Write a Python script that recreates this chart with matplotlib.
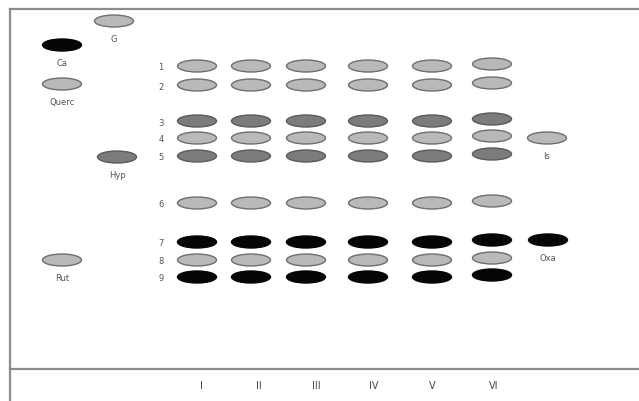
import matplotlib
matplotlib.use("Agg")
import matplotlib.pyplot as plt
from matplotlib.patches import Ellipse

# lanes of the plate and the numbered spots in each lane
lanes = ["I", "II", "III", "IV", "V", "VI"]
lane_x = [197, 251, 306, 368, 432, 492]
label_x = [201, 259, 316, 374, 432, 494]
lane_dy = [0, 0, 0, 0, 0, -2]

spot_num = ["1", "2", "3", "4", "5", "6", "7", "8", "9"]
spot_y = [67, 86, 122, 139, 157, 204, 243, 261, 278]
spot_tone = ["light", "light", "mid", "light", "mid", "light", "dark", "light", "dark"]

# reference standards
ref_names = ["Ca", "Querc", "G", "Hyp", "Rut", "Is", "Oxa"]
ref_x = [62, 62, 114, 117, 62, 547, 548]
ref_y = [46, 85, 22, 158, 261, 139, 241]
ref_tone = ["dark", "light", "light", "mid", "light", "light", "dark"]

tones = {
    "light": ("#b9b9b9", "#6e6e6e"),
    "mid": ("#7c7c7c", "#5a5a5a"),
    "dark": ("#050505", "#050505"),
}

W, H = 639, 402
fig = plt.figure(figsize=(W / 100, H / 100), dpi=100)
ax = fig.add_axes([0, 0, 1, 1])
ax.set_xlim(0, W)
ax.set_ylim(H, 0)
ax.axis("off")


def spot(x, y, tone):
    face, edge = tones[tone]
    ax.add_patch(Ellipse((x, y), 39, 12, facecolor=face, edgecolor=edge, lw=1.0))


# plate outline
line_kw = dict(color="#8c8c8c", lw=1.6)
ax.plot([10, W], [10, 10], **line_kw)
ax.plot([10, 10], [10, H], **line_kw)
ax.plot([10, W], [370, 370], **line_kw)

txt_kw = dict(fontsize=6, color="#555555", ha="center", va="center")

for i, x in enumerate(lane_x):
    for y, tone in zip(spot_y, spot_tone):
        spot(x, y + lane_dy[i], tone)
    ax.text(label_x[i], 386, lanes[i], fontsize=7, color="#444444",
            ha="center", va="center")

for n, y in zip(spot_num, spot_y):
    ax.text(161, y + 1, n, **txt_kw)

for name, x, y, tone in zip(ref_names, ref_x, ref_y, ref_tone):
    spot(x, y, tone)
    ax.text(x, y + 18, name, **txt_kw)

fig.savefig("out.png", dpi=100, facecolor="white")
